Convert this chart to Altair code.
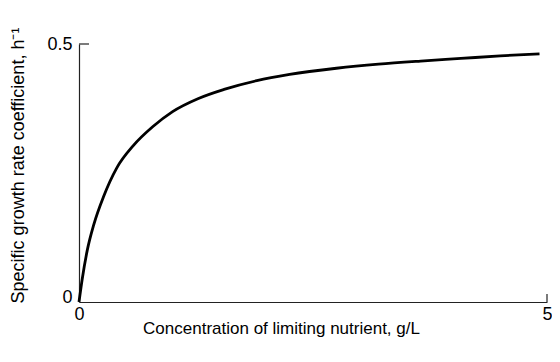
import altair as alt
import pandas as pd

# Curve
conc = [0, 0.035, 0.088, 0.158, 0.264, 0.404, 0.58, 0.79, 1.0, 1.27, 1.55, 1.9, 2.25, 2.75, 3.2, 3.65, 4.08, 4.5, 4.92]
rate = [0, 0.045, 0.1, 0.15, 0.205, 0.26, 0.303, 0.34, 0.369, 0.394, 0.412, 0.429, 0.441, 0.453, 0.461, 0.467, 0.472, 0.477, 0.481]

x_ticks = [0, 5]
y_ticks = [0, 0.5]

x_title = "Concentration of limiting nutrient, g/L"
y_title = "Specific growth rate coefficient, h\u207b\u00b9"

W, H = 468, 258
FONT = "Liberation Sans"

df = pd.DataFrame({"S": conc, "mu": rate})

x_scale = alt.Scale(domain=[0, 5], nice=False)
y_scale = alt.Scale(domain=[0, 0.5], nice=False)

x_axis = alt.Axis(values=x_ticks, ticks=False, title=x_title, labelFontSize=18,
                  labelPadding=3, labelFlush=False, titleFontSize=17, titleFontWeight="normal",
                  titleX=202, titleY=26, titleAlign="center", titleBaseline="middle",
                  domainColor="#222222", domainWidth=1.2,
                  labelColor="black", titleColor="black", grid=False,
                  labelFont=FONT, titleFont=FONT, format="d")
y_axis = alt.Axis(values=y_ticks, ticks=False, title=y_title, labelFontSize=18,
                  labelPadding=7, labelFlush=False, titleFontSize=18, titleFontWeight="normal",
                  titleX=-61, titleY=121, titleAlign="center", titleBaseline="middle",
                  domainColor="#222222", domainWidth=1.2,
                  labelColor="black", titleColor="black", grid=False,
                  labelFont=FONT, titleFont=FONT,
                  labelExpr="datum.value == 0 ? '0' : '0.5'",
                  labelBaseline={"condition": {"test": "datum.value == 0", "value": "alphabetic"}, "value": "middle"})

line = alt.Chart(df).mark_line(color="black", strokeWidth=2.8, interpolate="monotone").encode(
    x=alt.X("S:Q", scale=x_scale, axis=x_axis),
    y=alt.Y("mu:Q", scale=y_scale, axis=y_axis),
)

ytick = alt.Chart(pd.DataFrame({"mu": [y_ticks[1]]})).mark_rule(color="#222222", strokeWidth=1.2).encode(
    y=alt.Y("mu:Q", scale=y_scale, axis=y_axis),
    x=alt.value(0),
    x2=alt.value(10),
)

xtick = alt.Chart(pd.DataFrame({"S": [x_ticks[1]]})).mark_rule(color="#222222", strokeWidth=1.2).encode(
    x=alt.X("S:Q", scale=x_scale, axis=x_axis),
    y=alt.value(H),
    y2=alt.value(H - 8),
)

chart = alt.layer(line, ytick, xtick).properties(
    width=W, height=H,
    autosize=alt.AutoSizeParams(type="none"),
    padding={"left": 71, "top": 36, "right": 5, "bottom": 50},
).configure_view(strokeWidth=0)

chart.save("out.html", embed_options={"renderer": "svg", "actions": False})
